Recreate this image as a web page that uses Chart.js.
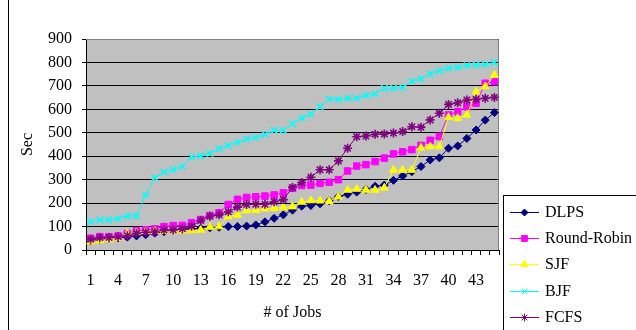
<!DOCTYPE html>
<html>
<head>
<meta charset="utf-8">
<script src="https://cdn.jsdelivr.net/npm/chart.js@4/dist/chart.umd.min.js"></script>
<style>
  html, body { margin: 0; padding: 0; background: #fff; }
  #wrap { position: relative; width: 636px; height: 330px; overflow: hidden; }
  canvas { display: block; }
</style>
</head>
<body>
<div id="wrap"><canvas id="c" width="636" height="330"></canvas></div>
<script>
// Number of jobs on the x axis
const jobs = ['1','2','3','4','5','6','7','8','9','10','11','12','13','14','15',
  '16','17','18','19','20','21','22','23','24','25','26','27','28','29','30',
  '31','32','33','34','35','36','37','38','39','40','41','42','43','44','45'];

// Completion time (sec) per scheduling policy
const dlps = [38,45,50,52,55,60,65,72,78,85, 88,90,92,95,97,100,100,102,107,120,
  135,150,170,187,190,197,210,228,238,247, 258,272,277,297,316,334,356,384,393,434,
  444,476,512,554,586];
const roundRobin = [50,57,57,60,70,82,86,90,100,104, 105,116,130,147,159,194,216,224,227,230,
  235,244,263,275,277,284,289,300,337,358, 364,377,392,410,419,428,446,468,484,576,
  590,611,626,711,718];
const sjf = [35,40,45,50,70,75,78,80,80,82, 82,83,85,98,100,142,149,168,170,176,
  178,181,185,205,211,210,208,227,256,260, 256,256,265,341,341,341,436,441,441,566,
  562,576,675,697,746];
const bjf = [120,128,128,133,145,145,235,308,332,343, 357,396,402,412,432,446,460,473,480,493,
  510,510,538,563,580,611,644,642,647,647, 660,666,690,690,693,720,730,752,765,775,
  780,787,790,792,800];
const fcfs = [46,53,53,57,61,71,76,77,85,86, 91,101,126,144,150,163,183,194,195,195,
  206,215,267,288,310,342,342,380,434,483, 486,494,495,499,505,526,524,555,583,621,
  628,640,643,647,651];

// y axis range
const yMin = 0, yMax = 900, yStep = 100;

const SERIF = '"Liberation Serif", "Times New Roman", serif';

function series(label, data, color, style, radius, markerLine) {
  return {
    label, data,
    borderColor: color, backgroundColor: color,
    borderWidth: 1,
    pointStyle: style, pointRadius: radius, pointHoverRadius: radius,
    pointBorderWidth: markerLine,
    pointBorderColor: color, pointBackgroundColor: color,
    tension: 0, fill: false
  };
}

const datasets = [
  series('DLPS', dlps, '#000080', 'rectRot', 4, 1),
  series('Round-Robin', roundRobin, '#FF00FF', 'rect', 4.6, 1),
  series('SJF', sjf, '#FFFF00', 'triangle', 4.5, 1),
  series('BJF', bjf, '#00FFFF', 'crossRot', 4.5, 1.6),
  series('FCFS', fcfs, '#800080', 'star', 4.5, 1.6)
];
// later series are painted on top of earlier ones
datasets.forEach((d, i) => { d.order = datasets.length - 1 - i; });

// white page, grey plot area and the left frame line
const backdrop = {
  id: 'backdrop',
  beforeDraw(chart) {
    const { ctx, chartArea: a } = chart;
    ctx.save();
    ctx.fillStyle = '#fff';
    ctx.fillRect(0, 0, chart.width, chart.height);
    ctx.fillStyle = '#C0C0C0';
    ctx.fillRect(a.left, a.top, a.right - a.left, a.bottom - a.top);
    ctx.strokeStyle = '#000';
    ctx.lineWidth = 1;
    ctx.beginPath();
    ctx.moveTo(8.5, 0);
    ctx.lineTo(8.5, chart.height);
    ctx.stroke();
    ctx.restore();
  },
  beforeDatasetsDraw(chart) {
    const { ctx, chartArea: a } = chart;
    ctx.save();
    ctx.strokeStyle = '#808080';
    ctx.lineWidth = 1;
    ctx.beginPath();
    ctx.moveTo(a.left, a.top + 0.5);
    ctx.lineTo(a.right - 0.5, a.top + 0.5);
    ctx.lineTo(a.right - 0.5, a.bottom);
    ctx.stroke();
    ctx.restore();
  }
};

// boxed legend: line sample with the marker in its middle
const boxLegend = {
  id: 'boxLegend',
  afterDraw(chart) {
    const ctx = chart.ctx;
    const bx = 503.5, by = 195.5;
    ctx.save();
    ctx.fillStyle = '#fff';
    ctx.fillRect(bx, by, 150, 150);
    ctx.strokeStyle = '#000';
    ctx.lineWidth = 1;
    ctx.strokeRect(bx, by, 150, 150);
    ctx.font = '16px ' + SERIF;
    ctx.textBaseline = 'middle';
    ctx.textAlign = 'left';
    chart.data.datasets.forEach((ds, i) => {
      const y = Math.round(212 + i * 26.2);
      ctx.strokeStyle = ds.borderColor;
      ctx.lineWidth = 1;
      ctx.beginPath();
      ctx.moveTo(510, y + 0.5);
      ctx.lineTo(539, y + 0.5);
      ctx.stroke();
      ctx.fillStyle = ds.borderColor;
      ctx.strokeStyle = ds.borderColor;
      Chart.helpers.drawPoint(ctx, {
        pointStyle: ds.pointStyle, radius: ds.pointRadius - 0.5, rotation: 0,
        borderWidth: ds.pointBorderWidth
      }, 524.5, y + 0.5);
      ctx.fillStyle = '#000';
      ctx.fillText(ds.label, 545, y + 1);
    });
    ctx.restore();
  }
};

new Chart(document.getElementById('c'), {
  type: 'line',
  data: { labels: jobs, datasets },
  plugins: [backdrop, boxLegend],
  options: {
    responsive: false,
    animation: false,
    devicePixelRatio: 1,
    layout: { padding: { left: 0, top: 39, right: 137, bottom: 0 } },
    plugins: { legend: { display: false }, tooltip: { enabled: false } },
    scales: {
      x: {
        type: 'category',
        offset: true,
        afterFit(s) { s.height = 80; },
        grid: {
          offset: true, drawOnChartArea: false, drawTicks: true,
          tickLength: 5, color: '#000', lineWidth: 1
        },
        border: { display: true, color: '#000', width: 1 },
        ticks: {
          autoSkip: false, maxRotation: 0, minRotation: 0,
          color: '#000', padding: 16,
          font: { family: SERIF, size: 16 },
          callback(v, i) { return i % 3 === 0 ? this.getLabelForValue(v) : ''; }
        },
        title: {
          display: true, text: '# of Jobs', color: '#000',
          font: { family: SERIF, size: 16 },
          padding: { top: 0, bottom: 8 }
        }
      },
      y: {
        min: yMin, max: yMax,
        afterFit(s) { s.width = 86; },
        grid: { color: '#000', lineWidth: 1, drawTicks: true, tickLength: 4 },
        border: { display: true, color: '#000', width: 1 },
        ticks: {
          stepSize: yStep, color: '#000', padding: 10,
          font: { family: SERIF, size: 16 }
        },
        title: {
          display: true, text: 'Sec', color: '#000',
          font: { family: SERIF, size: 16 },
          padding: { top: 18, bottom: 0 }
        }
      }
    }
  }
});
</script>
</body>
</html>
